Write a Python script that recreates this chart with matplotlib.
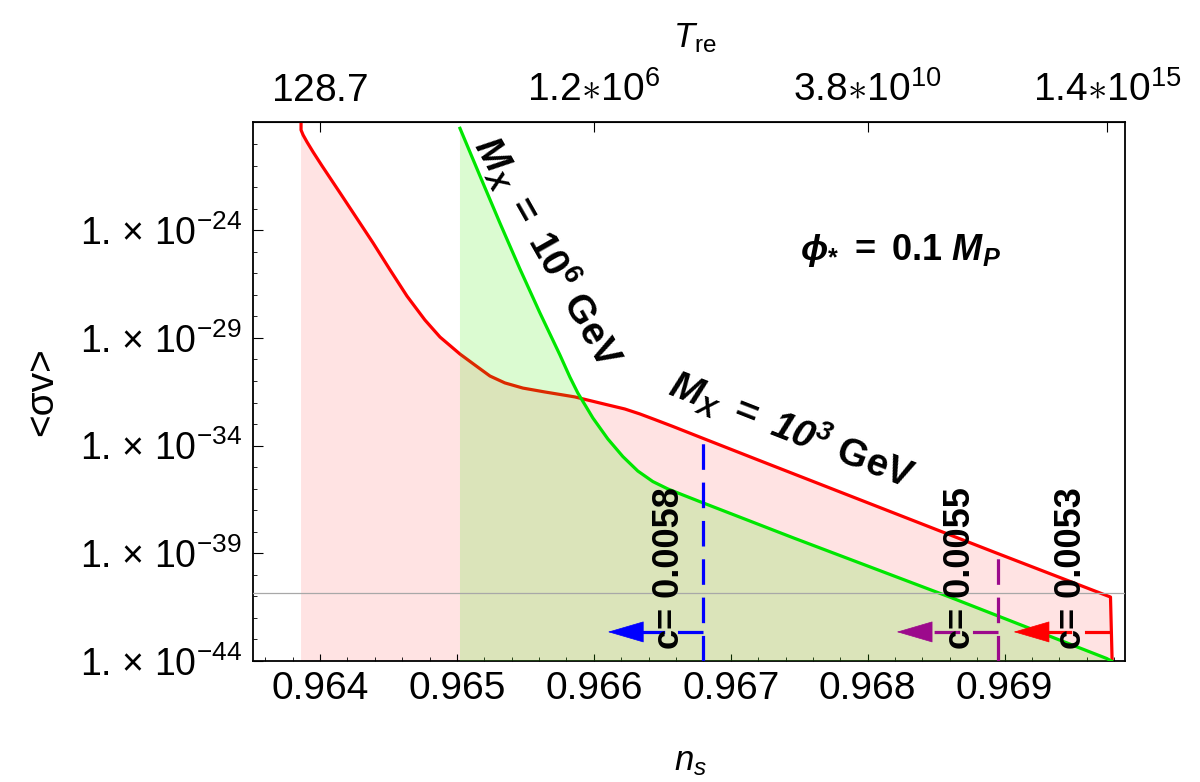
import numpy as np
import matplotlib
matplotlib.use("Agg")
import matplotlib.pyplot as plt
from matplotlib.ticker import FixedLocator, NullFormatter, FixedFormatter

plt.rcParams['font.family'] = ['Liberation Sans', 'DejaVu Sans']
plt.rcParams['mathtext.fontset'] = 'custom'
plt.rcParams['mathtext.rm'] = 'Liberation Sans'
plt.rcParams['mathtext.it'] = 'Liberation Sans:italic'
plt.rcParams['mathtext.bf'] = 'Liberation Sans:bold'
plt.rcParams['mathtext.bfit'] = 'Liberation Sans:italic:bold'
plt.rcParams['mathtext.sf'] = 'Liberation Sans'

# ---------------- data ----------------
# M_X = 10^3 GeV curve: n_s and log10 <sigma v>
ns_red = [0.963861, 0.963861, 0.963876, 0.963905, 0.963949, 0.964015, 0.964146,
          0.964387, 0.964511, 0.964635, 0.964766, 0.964876, 0.965022, 0.965131,
          0.965241, 0.965350, 0.965482, 0.965642, 0.965861, 0.966088, 0.966226,
          0.966336, 0.966445, 0.966577, 0.966796, 0.967197, 0.968015, 0.968934,
          0.969774, 0.969786]
lg_red = [-19.0, -19.35, -19.58, -19.91, -20.37, -21.02, -22.27,
          -24.59, -25.84, -27.06, -28.17, -28.96, -29.75, -30.26,
          -30.77, -31.09, -31.33, -31.51, -31.74, -32.09, -32.30,
          -32.53, -32.79, -33.11, -33.66, -34.66, -36.69, -38.97,
          -41.03, -44.0]

# M_X = 10^6 GeV curve
ns_green = [0.965022, 0.965168, 0.965314, 0.965460, 0.965606, 0.965752, 0.965825,
            0.965883, 0.965942, 0.965993, 0.966102, 0.966212, 0.966321, 0.966431,
            0.966540, 0.966650, 0.966774, 0.967460, 0.968599, 0.969745, 0.969781]
lg_green = [-19.27, -21.48, -23.67, -25.80, -27.84, -29.79, -30.82,
            -31.56, -32.18, -32.72, -33.69, -34.51, -35.18, -35.67,
            -36.01, -36.29, -36.60, -38.29, -41.03, -43.88, -44.0]

# horizontal reference line (log10 <sigma v>)
lg_hline = -40.84

# c-value markers
c_labels = ["c= 0.0058", "c= 0.0055", "c= 0.0053"]
c_ns = [0.966796, 0.968949, 0.969774]
c_tip_ns = [0.966102, 0.968212, 0.969066]
c_colors = ["#0000ff", "#9c0a8c", "#ff0000"]
c_vertical = [True, True, False]
lg_arrow = -42.65

# axis ticks
xticks = [0.964, 0.965, 0.966, 0.967, 0.968, 0.969]
xticklabels = ["0.964", "0.965", "0.966", "0.967", "0.968", "0.969"]
top_ticks = [0.964, 0.966, 0.968, 0.96975]
top_labels = [r"$128.7$", r"$1.2{\ast}10^{6}$", r"$3.8{\ast}10^{10}$", r"$1.4{\ast}10^{15}$"]
yticks_exp = [-44, -39, -34, -29, -24]

# ---------------- figure ----------------
fig = plt.figure(figsize=(12, 7.82), dpi=100)
ax = fig.add_axes([253/1200, 1-661/782, (1125-253)/1200, (661-122.5)/782])
ax.set_yscale('log')
ax.set_xlim(0.96351, 0.96988)
ax.set_ylim(1e-44, 1e-19)

ns_r = np.array(ns_red); y_r = 10.0**np.array(lg_red)
ns_g = np.array(ns_green); y_g = 10.0**np.array(lg_green)

ax.fill_between(ns_r, y_r, 1e-60, color='#ff0000', alpha=0.11, lw=0, zorder=1)
ax.plot(ns_r, y_r, color='#ff0000', lw=2.3, zorder=2, solid_joinstyle='round')
ax.fill_between(ns_g, y_g, 1e-60, color=(60/255, 238/255, 0), alpha=0.18, lw=0, zorder=3)
ax.plot(ns_g, y_g, color='#00e600', lw=2.3, zorder=4, solid_joinstyle='round')

ax.axhline(10.0**lg_hline, color='#a8a8a8', lw=0.9, zorder=5)

ya = 10.0**lg_arrow
head_len = 0.000245
for lab, x0, xt, col, vert in zip(c_labels, c_ns, c_tip_ns, c_colors, c_vertical):
    if vert:
        ytop = 10.0**np.interp(x0, ns_r, lg_red)
        ax.plot([x0, x0], [1e-44, ytop], color=col, lw=2.3, dashes=(8, 4), zorder=6)
    ax.plot([x0, xt + head_len], [ya, ya], color=col, lw=2.3, dashes=(8, 4),
            zorder=6)
    ax.annotate('', xy=(xt, ya), xytext=(xt + head_len, ya),
                arrowprops=dict(arrowstyle='-|>,head_length=0.82,head_width=0.24',
                                mutation_scale=30, color=col, lw=0.5,
                                shrinkA=0, shrinkB=0), zorder=7)

# rotated c labels
c_text_ns = [0.966555, 0.968679, 0.969489]
for lab, xc in zip(c_labels, c_text_ns):
    ax.text(xc, 10.0**-39.68, lab, rotation=90, ha='center', va='center',
            fontsize=26, fontweight='bold', zorder=8)

ax.text(0.965664, 10.0**-25.01, r"$\mathbfit{M}_{\mathbfit{X}}\mathbf{\ =\ 10^{6}\ GeV}$",
        rotation=-60.5, rotation_mode='anchor', ha='center', va='center',
        fontsize=28, zorder=8)
ax.text(0.967445, 10.0**-33.28, r"$\mathbfit{M}_{\mathbfit{X}}\mathbf{\ =\ }\mathbfit{10^{3}}\mathbf{\ GeV}$",
        rotation=-21.4, rotation_mode='anchor', ha='center', va='center',
        fontsize=28, zorder=8)
ax.text(0.968241, 10.0**-24.92, r"$\mathbfit{\phi}_{\mathbf{*}}\mathbf{\ =\ 0.1\ }\mathbfit{M}_{\mathbfit{P}}$",
        ha='center', va='center', fontsize=26, zorder=8)

# ---------------- axes styling ----------------
for s in ax.spines.values():
    s.set_linewidth(1.3)
ax.xaxis.set_major_locator(FixedLocator(xticks))
ax.xaxis.set_major_formatter(FixedFormatter(xticklabels))
ax.xaxis.set_minor_locator(FixedLocator(np.arange(0.9636, 0.9699, 0.0002)))
ax.yaxis.set_major_locator(FixedLocator([10.0**e for e in yticks_exp]))
ax.yaxis.set_major_formatter(FixedFormatter(["1. × 10$^{%d}$" % e for e in yticks_exp]))
ax.yaxis.set_minor_locator(FixedLocator([10.0**e for e in range(-44, -18)]))
ax.yaxis.set_minor_formatter(NullFormatter())
ax.tick_params(axis='both', which='both', direction='in', top=False, right=False)
ax.tick_params(axis='x', which='major', length=5, width=0.8, labelsize=28, pad=7)
ax.tick_params(axis='x', which='minor', length=3, width=0.6)
ax.tick_params(axis='y', which='major', length=7, width=0.8, labelsize=27, pad=8)
ax.tick_params(axis='y', which='minor', length=3, width=0.6)

top = ax.secondary_xaxis('top')
top.xaxis.set_major_locator(FixedLocator(top_ticks))
top.xaxis.set_major_formatter(FixedFormatter(top_labels))
top.xaxis.set_minor_locator(FixedLocator([]))
top.tick_params(axis='x', which='major', direction='in', length=7, width=0.8,
                labelsize=28, pad=10)

fig.text(695/1200, 1 - 38/782, r"$T_{\mathrm{re}}$", fontsize=25, ha='center', va='center')
fig.text(690/1200, 1 - 762/782, r"$n_s$", fontsize=25, ha='center', va='center')
ax.set_ylabel("<σv>", fontsize=28, labelpad=14)

fig.savefig("out.png", dpi=100)
